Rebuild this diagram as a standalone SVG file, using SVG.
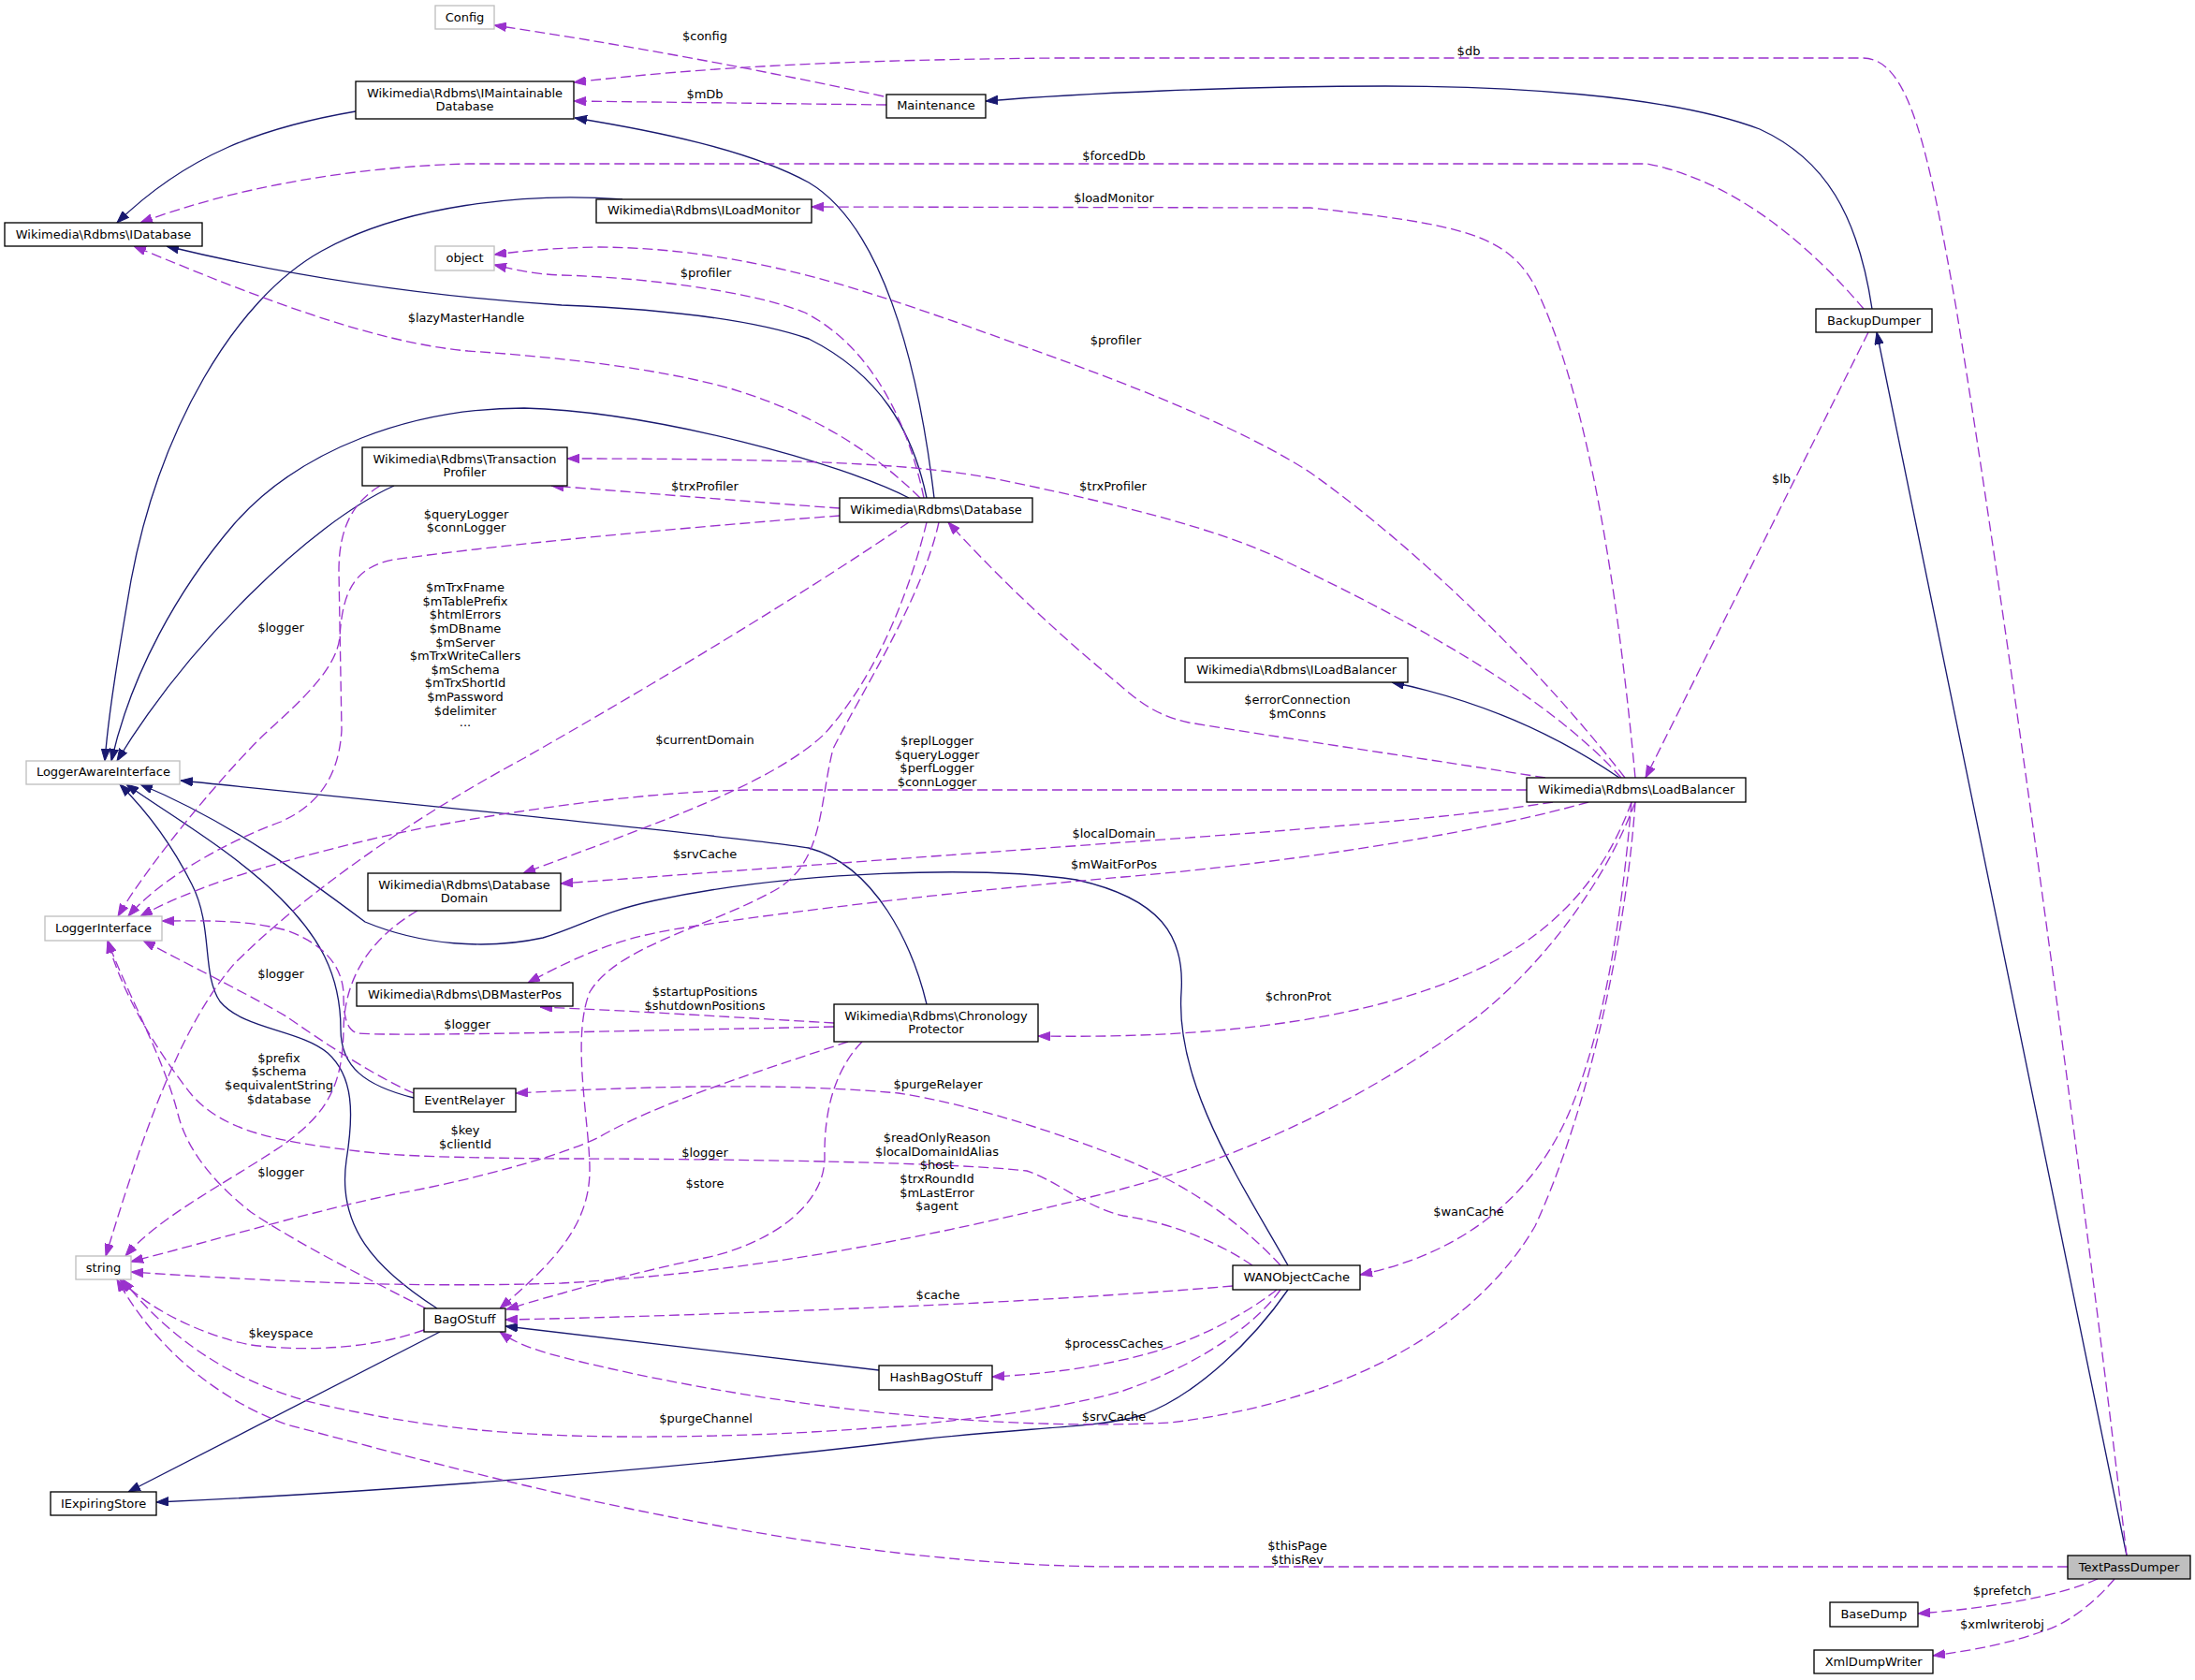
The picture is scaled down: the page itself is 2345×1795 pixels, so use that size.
<svg xmlns="http://www.w3.org/2000/svg" width="2345" height="1795" viewBox="0 0 2345 1795">
<style>
.n rect{fill:#fff;stroke:#000;stroke-width:1.33}
.n.u rect{stroke:#bfbfbf}
.n.h rect{fill:#bfbfbf}
text{font-family:'DejaVu Sans','Liberation Sans',sans-serif;font-size:13px;fill:#000;text-anchor:middle}
.e path{fill:none;stroke-width:1.33}
.e path.s{stroke:#191970;marker-end:url(#ms)}
.e path.d{stroke:#9a32cd;stroke-dasharray:11,5;marker-end:url(#md)}
</style>
<defs>
<marker id="ms" viewBox="0 0 13 10" refX="13" refY="5" markerWidth="13" markerHeight="10" markerUnits="userSpaceOnUse" orient="auto"><path d="M0,0.3 L13,5 L0,9.7z" fill="#191970" stroke="#191970" stroke-width="1"/></marker>
<marker id="md" viewBox="0 0 13 10" refX="13" refY="5" markerWidth="13" markerHeight="10" markerUnits="userSpaceOnUse" orient="auto"><path d="M0,0.3 L13,5 L0,9.7z" fill="#9a32cd" stroke="#9a32cd" stroke-width="1"/></marker>
</defs>
<rect width="2345" height="1795" fill="#fff"/>
<g id="connectors" class="e">
<path class="s" d="M380,119 C280,136 200,165 125,238"/>
<path class="s" d="M998,532 C980,380 940,240 864,195 C800,160 700,140 614,126"/>
<path class="s" d="M990,532 C975,460 940,400 864,362 C800,340 700,330 600,326 C480,318 330,300 178,263"/>
<path class="s" d="M971,532 C900,495 700,440 560,436 C440,436 320,480 250,560 C190,630 140,720 119,813"/>
<path class="s" d="M665,213 C560,205 430,220 344,268 C250,320 170,460 140,620 C128,690 116,760 112,813"/>
<path class="s" d="M421,519 C330,560 200,690 125,813"/>
<path class="s" d="M990,1073 C975,1010 935,925 864,906 C800,895 400,855 193,834"/>
<path class="s" d="M1376,1352 C1330,1270 1255,1160 1262,1060 C1266,1000 1240,960 1150,940 C1050,925 850,930 700,962 C640,975 620,990 580,1002 C520,1015 450,1010 390,985 C330,940 250,880 150,838"/>
<path class="s" d="M442,1173 C390,1160 364,1140 364,1100 C364,1040 340,1000 300,960 C250,910 180,870 135,838"/>
<path class="s" d="M467,1398 C400,1355 360,1310 370,1240 C378,1190 378,1150 350,1125 C320,1100 260,1100 235,1070 C215,1040 228,990 205,945 C185,905 160,870 128,838"/>
<path class="s" d="M470,1423 L137,1594"/>
<path class="s" d="M1376,1378 C1340,1430 1280,1490 1220,1512 C1180,1525 1100,1525 983,1538 C800,1560 500,1590 167,1605"/>
<path class="s" d="M939,1464 L540,1417"/>
<path class="s" d="M2272,1662 L2005,355"/>
<path class="s" d="M2000,330 C1985,230 1950,170 1880,138 C1780,100 1600,92 1480,92 C1320,92 1150,100 1053,108"/>
<path class="s" d="M1730,831 C1670,790 1590,750 1487,729"/>
<path class="d" d="M944,103 C800,72 650,45 528,27"/>
<path class="d" d="M947,112 L613,108"/>
<path class="d" d="M2272,1662 C2230,1300 2150,700 2090,330 C2060,160 2040,62 1990,62 L1130,62 C900,64 750,72 613,88"/>
<path class="d" d="M1991,330 C1940,270 1860,195 1760,175 L500,175 C380,178 250,200 150,238"/>
<path class="d" d="M1747,831 C1730,650 1700,430 1640,306 C1610,250 1560,240 1400,222 L867,221"/>
<path class="d" d="M1736,831 C1650,720 1520,590 1400,505 C1300,440 1120,380 1021,344 C930,313 800,265 640,264 C590,265 560,268 528,272"/>
<path class="d" d="M987,532 C970,450 930,370 860,334 C800,310 680,296 600,294 C570,293 550,288 528,283"/>
<path class="d" d="M983,532 C940,490 880,445 780,415 C700,393 600,382 500,375 C400,366 280,320 143,263"/>
<path class="d" d="M1732,831 C1650,740 1500,660 1370,598 C1300,565 1200,540 1080,515 C1000,498 900,490 606,490"/>
<path class="d" d="M897,543 C800,536 680,526 589,519"/>
<path class="d" d="M897,551 C750,562 550,580 420,598 C380,606 366,630 363,680 C360,715 320,750 283,784 C245,820 160,920 126,979"/>
<path class="d" d="M406,519 C380,535 362,560 362,610 L365,780 C362,830 340,860 300,878 C240,900 170,940 137,979"/>
<path class="d" d="M1631,844 L800,844 C680,846 520,870 421,891 C330,912 220,940 150,979"/>
<path class="d" d="M1651,831 C1550,815 1380,790 1270,772 C1230,763 1215,748 1180,718 C1120,668 1060,610 1013,558"/>
<path class="d" d="M1659,857 C1560,873 1400,886 1200,900 L599,944"/>
<path class="d" d="M1697,857 C1600,885 1400,920 1200,937 C1050,950 850,972 720,993 C660,1003 620,1020 564,1050"/>
<path class="d" d="M1743,857 C1720,920 1680,980 1600,1025 C1480,1090 1300,1110 1109,1107"/>
<path class="d" d="M1747,857 C1720,930 1660,1020 1580,1085 C1480,1160 1350,1230 1200,1270 C1000,1322 800,1360 600,1371 C450,1376 300,1370 140,1359"/>
<path class="d" d="M1743,857 C1735,950 1720,1080 1680,1180 C1640,1280 1560,1340 1453,1362"/>
<path class="d" d="M1747,857 C1738,990 1700,1180 1640,1310 C1570,1430 1420,1500 1250,1520 C1050,1530 800,1500 600,1450 C570,1442 550,1435 534,1423"/>
<path class="d" d="M1996,355 L1758,831"/>
<path class="d" d="M971,558 C850,640 700,730 560,810 C430,880 320,960 250,1030 C190,1100 150,1220 113,1342"/>
<path class="d" d="M990,558 C975,620 940,720 880,785 C820,840 700,880 559,933"/>
<path class="d" d="M1003,558 C985,640 920,740 890,800 C875,860 880,920 830,950 C760,990 660,1010 630,1060 C610,1110 630,1200 630,1250 C630,1310 590,1350 534,1398"/>
<path class="d" d="M446,973 C400,1000 368,1040 367,1100 C366,1160 350,1190 300,1225 C240,1265 170,1300 134,1342"/>
<path class="d" d="M891,1093 C800,1088 680,1080 577,1076"/>
<path class="d" d="M891,1097 L600,1103 C500,1105 400,1106 382,1104 C368,1100 367,1080 367,1060 C365,1035 350,1010 306,994 C260,982 220,984 173,984"/>
<path class="d" d="M906,1113 C800,1148 700,1180 640,1215 C600,1235 500,1262 421,1276 C330,1295 230,1325 140,1348"/>
<path class="d" d="M921,1113 C895,1140 880,1180 881,1238 C880,1290 820,1330 753,1344 C700,1355 640,1370 600,1382 C570,1390 555,1395 541,1399"/>
<path class="d" d="M1368,1352 C1320,1300 1260,1262 1200,1238 C1140,1214 1040,1180 960,1168 C840,1157 700,1160 551,1168"/>
<path class="d" d="M1338,1352 C1290,1320 1240,1305 1200,1299 C1160,1290 1130,1262 1097,1251 C1000,1240 700,1238 600,1238 C480,1237 420,1235 383,1230 C300,1220 240,1210 205,1170 C165,1120 130,1060 115,1005"/>
<path class="d" d="M1317,1374 C1250,1380 1100,1390 983,1395 C800,1403 650,1408 540,1410"/>
<path class="d" d="M1364,1378 C1330,1405 1280,1430 1238,1443 C1180,1460 1120,1468 1060,1471"/>
<path class="d" d="M1368,1378 C1345,1410 1290,1455 1200,1486 C1100,1515 900,1534 700,1535 C550,1536 450,1525 340,1500 C250,1478 180,1430 131,1367"/>
<path class="d" d="M2209,1674 L1200,1674 C1050,1674 900,1655 750,1627 C600,1600 450,1560 306,1522 C220,1490 160,1430 125,1367"/>
<path class="d" d="M453,1421 C400,1440 330,1445 268,1437 C220,1428 160,1400 128,1367"/>
<path class="d" d="M455,1398 C400,1370 320,1330 268,1295 C230,1265 200,1230 190,1190 C175,1130 135,1060 115,1005"/>
<path class="d" d="M442,1168 C400,1150 340,1110 306,1086 C270,1065 200,1030 153,1005"/>
<path class="d" d="M2241,1687 C2200,1705 2130,1718 2049,1724"/>
<path class="d" d="M2259,1687 C2240,1710 2210,1735 2182,1743 C2150,1755 2110,1763 2065,1769"/>
</g>
<g id="edge-labels">
<text x="753" y="43">$config</text>
<text x="753" y="105">$mDb</text>
<text x="1569" y="59">$db</text>
<text x="1190" y="171">$forcedDb</text>
<text x="1190" y="216">$loadMonitor</text>
<text x="1192" y="368">$profiler</text>
<text x="754" y="296">$profiler</text>
<text x="498" y="344">$lazyMasterHandle</text>
<text x="753" y="524">$trxProfiler</text>
<text x="1189" y="524">$trxProfiler</text>
<text x="498" y="554">$queryLogger</text>
<text x="498" y="568">$connLogger</text>
<text x="300" y="675">$logger</text>
<text x="497" y="632">$mTrxFname</text>
<text x="497" y="647">$mTablePrefix</text>
<text x="497" y="661">$htmlErrors</text>
<text x="497" y="676">$mDBname</text>
<text x="497" y="691">$mServer</text>
<text x="497" y="705">$mTrxWriteCallers</text>
<text x="497" y="720">$mSchema</text>
<text x="497" y="734">$mTrxShortId</text>
<text x="497" y="749">$mPassword</text>
<text x="497" y="764">$delimiter</text>
<text x="497" y="776">...</text>
<text x="1903" y="516">$lb</text>
<text x="1386" y="752">$errorConnection</text>
<text x="1386" y="767">$mConns</text>
<text x="753" y="795">$currentDomain</text>
<text x="1001" y="796">$replLogger</text>
<text x="1001" y="811">$queryLogger</text>
<text x="1001" y="825">$perfLogger</text>
<text x="1001" y="840">$connLogger</text>
<text x="1190" y="895">$localDomain</text>
<text x="753" y="917">$srvCache</text>
<text x="1190" y="928">$mWaitForPos</text>
<text x="1387" y="1069">$chronProt</text>
<text x="298" y="1135">$prefix</text>
<text x="298" y="1149">$schema</text>
<text x="298" y="1164">$equivalentString</text>
<text x="298" y="1179">$database</text>
<text x="753" y="1064">$startupPositions</text>
<text x="753" y="1079">$shutdownPositions</text>
<text x="499" y="1099">$logger</text>
<text x="300" y="1045">$logger</text>
<text x="1002" y="1163">$purgeRelayer</text>
<text x="497" y="1212">$key</text>
<text x="497" y="1227">$clientId</text>
<text x="300" y="1257">$logger</text>
<text x="300" y="1429">$keyspace</text>
<text x="753" y="1236">$logger</text>
<text x="753" y="1269">$store</text>
<text x="1001" y="1220">$readOnlyReason</text>
<text x="1001" y="1235">$localDomainIdAlias</text>
<text x="1001" y="1249">$host</text>
<text x="1001" y="1264">$trxRoundId</text>
<text x="1001" y="1279">$mLastError</text>
<text x="1001" y="1293">$agent</text>
<text x="1002" y="1388">$cache</text>
<text x="1190" y="1440">$processCaches</text>
<text x="754" y="1520">$purgeChannel</text>
<text x="1190" y="1518">$srvCache</text>
<text x="1569" y="1299">$wanCache</text>
<text x="1386" y="1656">$thisPage</text>
<text x="1386" y="1671">$thisRev</text>
<text x="2139" y="1704">$prefetch</text>
<text x="2139" y="1740">$xmlwriterobj</text>
</g>
<g id="node-Config" class="n u"><rect x="465" y="6" width="63" height="25"/><text x="496.5" y="22.5">Config</text></g>
<g id="node-IMaintainableDatabase" class="n"><rect x="380" y="87" width="233" height="40"/><text x="496.5" y="103.8">Wikimedia\Rdbms\IMaintainable</text><text x="496.5" y="117.8">Database</text></g>
<g id="node-IDatabase" class="n"><rect x="5" y="238" width="211" height="25"/><text x="110.5" y="254.6">Wikimedia\Rdbms\IDatabase</text></g>
<g id="node-object" class="n u"><rect x="465" y="263" width="63" height="26"/><text x="496.5" y="280">object</text></g>
<g id="node-TransactionProfiler" class="n"><rect x="387" y="478" width="219" height="41"/><text x="496.5" y="495.4">Wikimedia\Rdbms\Transaction</text><text x="496.5" y="509.4">Profiler</text></g>
<g id="node-Maintenance" class="n"><rect x="947" y="101" width="106" height="25"/><text x="1000" y="117.3">Maintenance</text></g>
<g id="node-ILoadMonitor" class="n"><rect x="637" y="213" width="230" height="25"/><text x="752" y="229.4">Wikimedia\Rdbms\ILoadMonitor</text></g>
<g id="node-Database" class="n"><rect x="897" y="532" width="206" height="26"/><text x="1000" y="549">Wikimedia\Rdbms\Database</text></g>
<g id="node-BackupDumper" class="n"><rect x="1940" y="330" width="124" height="25"/><text x="2002" y="346.5">BackupDumper</text></g>
<g id="node-LoggerAwareInterface" class="n u"><rect x="28" y="813" width="164" height="25"/><text x="110.4" y="829.4">LoggerAwareInterface</text></g>
<g id="node-LoggerInterface" class="n u"><rect x="48" y="979" width="125" height="26"/><text x="110.4" y="995.9">LoggerInterface</text></g>
<g id="node-DatabaseDomain" class="n"><rect x="393" y="933" width="206" height="40"/><text x="496" y="949.8">Wikimedia\Rdbms\Database</text><text x="496" y="963.8">Domain</text></g>
<g id="node-DBMasterPos" class="n"><rect x="381" y="1050" width="231" height="25"/><text x="496.5" y="1066.5">Wikimedia\Rdbms\DBMasterPos</text></g>
<g id="node-EventRelayer" class="n"><rect x="442" y="1163" width="109" height="25"/><text x="496.3" y="1179.5">EventRelayer</text></g>
<g id="node-ChronologyProtector" class="n"><rect x="891" y="1073" width="218" height="40"/><text x="1000" y="1090">Wikimedia\Rdbms\Chronology</text><text x="1000" y="1104">Protector</text></g>
<g id="node-ILoadBalancer" class="n"><rect x="1266" y="703" width="238" height="26"/><text x="1385.2" y="719.8">Wikimedia\Rdbms\ILoadBalancer</text></g>
<g id="node-LoadBalancer" class="n"><rect x="1631" y="831" width="234" height="26"/><text x="1748.3" y="848">Wikimedia\Rdbms\LoadBalancer</text></g>
<g id="node-string" class="n u"><rect x="81" y="1342" width="59" height="25"/><text x="110.5" y="1358.6">string</text></g>
<g id="node-BagOStuff" class="n"><rect x="453" y="1398" width="87" height="25"/><text x="496.4" y="1414.4">BagOStuff</text></g>
<g id="node-IExpiringStore" class="n"><rect x="54" y="1594" width="113" height="25"/><text x="110.6" y="1610.6">IExpiringStore</text></g>
<g id="node-HashBagOStuff" class="n"><rect x="939" y="1459" width="121" height="26"/><text x="999.9" y="1475.9">HashBagOStuff</text></g>
<g id="node-WANObjectCache" class="n"><rect x="1317" y="1352" width="136" height="26"/><text x="1385.2" y="1369.2">WANObjectCache</text></g>
<g id="node-TextPassDumper" class="n h"><rect x="2209" y="1662" width="131" height="25"/><text x="2274.6" y="1678.5">TextPassDumper</text></g>
<g id="node-BaseDump" class="n"><rect x="1955" y="1712" width="94" height="26"/><text x="2001.8" y="1729">BaseDump</text></g>
<g id="node-XmlDumpWriter" class="n"><rect x="1938" y="1763" width="127" height="25"/><text x="2001.7" y="1779.6">XmlDumpWriter</text></g>
</svg>
